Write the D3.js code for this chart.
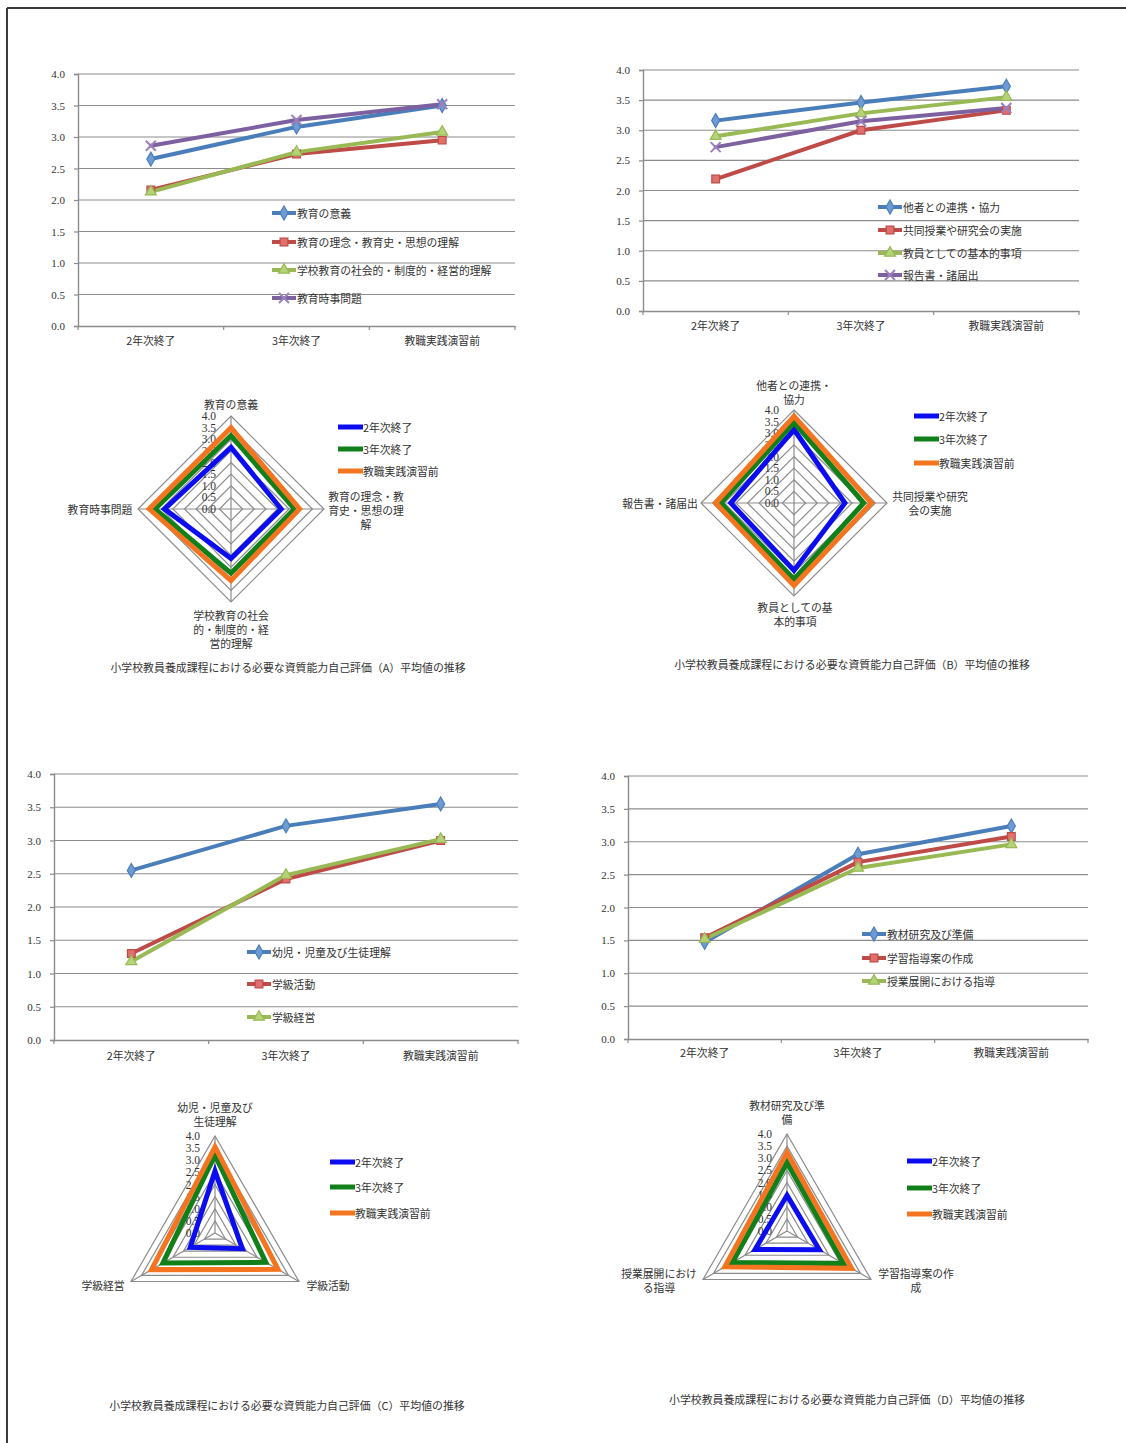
<!DOCTYPE html>
<html>
<head>
<meta charset="utf-8">
<script src="https://cdn.jsdelivr.net/npm/d3@7"></script>
<style>
  body { margin: 0; background: #fff; }
  svg { display: block; }
  text { font-family: "Noto Sans CJK JP", "Noto Sans", sans-serif; fill: #333; }
  .num { font-family: "Liberation Serif", "DejaVu Serif", serif; }
</style>
</head>
<body>
<svg id="page" width="1126" height="1443"></svg>
<script>
// ---- data ----
const periods = ["2年次終了", "3年次終了", "教職実践演習前"];
const valueTicks = [0, 0.5, 1, 1.5, 2, 2.5, 3, 3.5, 4];

// (A)
const itemsA = ["教育の意義", "教育の理念・教育史・思想の理解", "学校教育の社会的・制度的・経営的理解", "教育時事問題"];
const scoresA = [
  [2.65, 3.16, 3.50],
  [2.16, 2.73, 2.95],
  [2.13, 2.76, 3.08],
  [2.86, 3.27, 3.52]
];
const radarLabelsA = [["教育の意義"], ["教育の理念・教", "育史・思想の理", "解"], ["学校教育の社会", "的・制度的・経", "営的理解"], ["教育時事問題"]];

// (B)
const itemsB = ["他者との連携・協力", "共同授業や研究会の実施", "教員としての基本的事項", "報告書・諸届出"];
const scoresB = [
  [3.16, 3.46, 3.73],
  [2.19, 3.00, 3.33],
  [2.90, 3.28, 3.55],
  [2.72, 3.15, 3.37]
];
const radarLabelsB = [["他者との連携・", "協力"], ["共同授業や研究", "会の実施"], ["教員としての基", "本的事項"], ["報告書・諸届出"]];

// (C)
const itemsC = ["幼児・児童及び生徒理解", "学級活動", "学級経営"];
const scoresC = [
  [2.55, 3.22, 3.55],
  [1.30, 2.42, 3.00],
  [1.18, 2.48, 3.02]
];
const radarLabelsC = [["幼児・児童及び", "生徒理解"], ["学級活動"], ["学級経営"]];

// (D)
const itemsD = ["教材研究及び準備", "学習指導案の作成", "授業展開における指導"];
const scoresD = [
  [1.47, 2.81, 3.24],
  [1.54, 2.69, 3.08],
  [1.52, 2.60, 2.96]
];
const radarLabelsD = [["教材研究及び準", "備"], ["学習指導案の作", "成"], ["授業展開におけ", "る指導"]];

const captionBase = ["小学校教員養成課程における必要な資質能力自己評価（", "）平均値の推移"];
const groupNames = ["A", "B", "C", "D"];

// ---- styles ----
const lineColors = ["#4a7ebb", "#be4b48", "#98b954", "#7d60a0"];
const markerFills = ["#6f9bd3", "#e0706c", "#b5d47a", "#9a80bd"];
const markerKinds = ["diamond", "square", "triangle", "times"];
const radarColors = ["#0c0cf0", "#12801a", "#f47420"];
const gridColor = "#8c8c8c";

const svg = d3.select("#page");

// page frame (top and left edges)
svg.append("line").attr("x1", 7).attr("x2", 1126).attr("y1", 8).attr("y2", 8)
  .attr("stroke", "#3a3a3a").attr("stroke-width", 2);
svg.append("line").attr("x1", 7).attr("x2", 7).attr("y1", 8).attr("y2", 1443)
  .attr("stroke", "#3a3a3a").attr("stroke-width", 2);

function markerPath(kind) {
  if (kind === "diamond") return d3.symbol(d3.symbolDiamond, 56)();
  if (kind === "square") return d3.symbol(d3.symbolSquare, 60)();
  if (kind === "triangle") return d3.symbol(d3.symbolTriangle, 52)();
  const s = 5;
  return `M${-s},${-s}L${s},${s}M${-s},${s}L${s},${-s}`;
}

function drawMarker(g, kind, i, x, y) {
  const p = g.append("path").attr("d", markerPath(kind))
    .attr("transform", `translate(${x},${y})`);
  if (kind === "times") {
    p.attr("fill", "none").attr("stroke", markerFills[i]).attr("stroke-width", 2);
  } else {
    p.attr("fill", markerFills[i]).attr("stroke", lineColors[i]).attr("stroke-width", 1.2);
  }
}

function lineChart(cfg, items, scores) {
  const g = svg.append("g");
  const x = d3.scaleBand().domain(periods).range([cfg.left, cfg.right]);
  const y = d3.scaleLinear().domain([0, 4]).range([cfg.bottom, cfg.top]);

  // horizontal grid
  g.append("g").selectAll("line").data(valueTicks.slice(1)).join("line")
    .attr("x1", cfg.left).attr("x2", cfg.right)
    .attr("y1", d => y(d)).attr("y2", d => y(d))
    .attr("stroke", gridColor).attr("stroke-width", 1.2);

  // y axis
  const ya = g.append("g").attr("transform", `translate(${cfg.left},0)`)
    .call(d3.axisLeft(y).tickValues(valueTicks).tickFormat(d3.format(".1f")).tickSize(4).tickPadding(9));
  ya.select(".domain").attr("stroke", gridColor).attr("stroke-width", 1.4);
  ya.selectAll(".tick line").attr("stroke", gridColor).attr("stroke-width", 1.2);
  ya.selectAll(".tick text").attr("class", "num").attr("font-size", 11).attr("fill", "#444");

  // x axis: baseline, boundary ticks, category labels
  const xa = g.append("g").attr("transform", `translate(0,${cfg.bottom})`)
    .call(d3.axisBottom(x).tickSize(0).tickPadding(cfg.labelGap));
  xa.select(".domain").attr("stroke", gridColor).attr("stroke-width", 1.4);
  xa.selectAll(".tick text").attr("font-size", 10.8).attr("fill", "#444");
  const edges = periods.map(d => x(d)).concat([x(periods[periods.length - 1]) + x.bandwidth()]);
  g.append("g").selectAll("line").data(edges).join("line")
    .attr("x1", d => d).attr("x2", d => d)
    .attr("y1", cfg.bottom).attr("y2", cfg.bottom + 4)
    .attr("stroke", gridColor).attr("stroke-width", 1.2);

  const cx = d => x(d) + x.bandwidth() / 2;
  const line = d3.line().x((v, j) => cx(periods[j])).y(v => y(v));

  // series lines and markers
  scores.forEach((vals, i) => {
    g.append("path").datum(vals).attr("d", line)
      .attr("fill", "none").attr("stroke", lineColors[i]).attr("stroke-width", 4)
      .attr("stroke-linejoin", "round").attr("stroke-linecap", "round");
  });
  scores.forEach((vals, i) => {
    vals.forEach((v, j) => drawMarker(g, markerKinds[i], i, cx(periods[j]), y(v)));
  });

  // legend
  items.forEach((name, i) => {
    const ly = cfg.legend.ys[i];
    g.append("line").attr("x1", cfg.legend.x).attr("x2", cfg.legend.x + 24)
      .attr("y1", ly).attr("y2", ly)
      .attr("stroke", lineColors[i]).attr("stroke-width", 4);
    drawMarker(g, markerKinds[i], i, cfg.legend.x + 12, ly);
    g.append("text").attr("x", cfg.legend.x + 25).attr("y", ly)
      .attr("dominant-baseline", "central").attr("font-size", 10.8).text(name);
  });
}

function radarChart(cfg, items, scores, labelLines, caption) {
  const g = svg.append("g");
  const n = items.length;
  const r = d3.scaleLinear().domain([0, 4]).range([0, cfg.r]);
  const angle = i => -Math.PI / 2 + i * 2 * Math.PI / n;
  const pt = (i, v) => [cfg.cx + r(v) * Math.cos(angle(i)), cfg.cy + r(v) * Math.sin(angle(i))];
  const closed = d3.line().curve(d3.curveLinearClosed);

  // rings
  g.append("g").selectAll("path").data(valueTicks.slice(1)).join("path")
    .attr("d", v => closed(items.map((_, i) => pt(i, v))))
    .attr("fill", "none").attr("stroke", gridColor).attr("stroke-width", 1.2);
  // spokes
  g.append("g").selectAll("line").data(items).join("line")
    .attr("x1", cfg.cx).attr("y1", cfg.cy)
    .attr("x2", (_, i) => pt(i, 4)[0]).attr("y2", (_, i) => pt(i, 4)[1])
    .attr("stroke", gridColor).attr("stroke-width", 1.2);

  // value labels along the first spoke
  g.append("g").selectAll("text").data(valueTicks).join("text")
    .attr("class", "num")
    .attr("x", cfg.cx - 15).attr("y", v => cfg.cy - r(v))
    .attr("text-anchor", "end").attr("dominant-baseline", "central")
    .attr("font-size", 11.5).attr("fill", "#555")
    .text(d3.format(".1f"));

  // one polygon per period
  periods.forEach((p, j) => {
    g.append("path")
      .attr("d", closed(items.map((_, i) => pt(i, scores[i][j]))))
      .attr("fill", "none").attr("stroke", radarColors[j]).attr("stroke-width", 5)
      .attr("stroke-linejoin", "miter");
  });

  // axis labels
  labelLines.forEach((lines, i) => {
    const [lx, ly] = cfg.labels[i];
    const t = g.append("text").attr("text-anchor", "middle").attr("font-size", 10.8);
    lines.forEach((s, k) => {
      t.append("tspan").attr("x", lx).attr("y", ly + k * 14)
        .attr("dominant-baseline", "central").text(s);
    });
  });

  // legend
  periods.forEach((p, j) => {
    const ly = cfg.legend.ys[j];
    g.append("line").attr("x1", cfg.legend.x).attr("x2", cfg.legend.x + 25)
      .attr("y1", ly).attr("y2", ly)
      .attr("stroke", radarColors[j]).attr("stroke-width", 5);
    g.append("text").attr("x", cfg.legend.x + 25).attr("y", ly)
      .attr("dominant-baseline", "central").attr("font-size", 10.8).text(p);
  });

  // caption
  g.append("text").attr("x", cfg.caption[0]).attr("y", cfg.caption[1])
    .attr("text-anchor", "middle").attr("dominant-baseline", "central")
    .attr("font-size", 10.9).text(caption);
}

const captionFor = k => captionBase[0] + groupNames[k] + captionBase[1];

// ---- (A) ----
lineChart({ left: 78, right: 515, top: 74, bottom: 326, labelGap: 11,
  legend: { x: 272, ys: [213, 242, 270, 298] } }, itemsA, scoresA);
radarChart({ cx: 231, cy: 509, r: 93,
  labels: [[231, 404], [366, 496], [231, 615], [100, 509]],
  legend: { x: 338, ys: [427, 449, 471] }, caption: [288, 667] },
  itemsA, scoresA, radarLabelsA, captionFor(0));

// ---- (B) ----
lineChart({ left: 643, right: 1079, top: 70, bottom: 311, labelGap: 11,
  legend: { x: 878, ys: [207, 230, 253, 275] } }, itemsB, scoresB);
radarChart({ cx: 794, cy: 503, r: 93,
  labels: [[794, 385], [930, 496], [795, 607], [660, 503]],
  legend: { x: 914, ys: [416, 439, 463] }, caption: [852, 664] },
  itemsB, scoresB, radarLabelsB, captionFor(1));

// ---- (C) ----
lineChart({ left: 54, right: 518, top: 774, bottom: 1040, labelGap: 12,
  legend: { x: 247, ys: [952, 984, 1017] } }, itemsC, scoresC);
radarChart({ cx: 215, cy: 1233, r: 97,
  labels: [[215, 1107], [328, 1285], [103, 1285]],
  legend: { x: 330, ys: [1162, 1187, 1213] }, caption: [287, 1405] },
  itemsC, scoresC, radarLabelsC, captionFor(2));

// ---- (D) ----
lineChart({ left: 628, right: 1088, top: 776, bottom: 1039, labelGap: 10,
  legend: { x: 862, ys: [934, 958, 981] } }, itemsD, scoresD);
radarChart({ cx: 787, cy: 1231, r: 97,
  labels: [[787, 1105], [916, 1273], [659, 1273]],
  legend: { x: 907, ys: [1161, 1188, 1214] }, caption: [847, 1399] },
  itemsD, scoresD, radarLabelsD, captionFor(3));
</script>
</body>
</html>
